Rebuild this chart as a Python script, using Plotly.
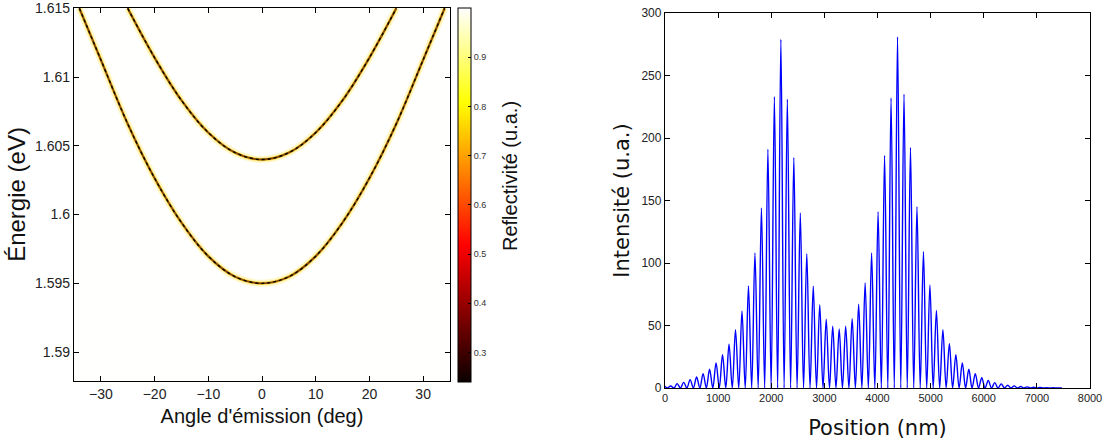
import plotly.graph_objects as go

# ---------------- Left panel data (dispersion of the two modes) ----------------
lower_angle_deg = [-34, -30, -25, -20, -15, -10, -5, 0, 5, 10, 15, 20, 25, 30, 34]
lower_energy_ev = [1.6150, 1.61125, 1.6066, 1.60265, 1.59942, 1.59697, 1.59548, 1.5950,
                   1.59548, 1.59697, 1.59942, 1.60265, 1.6066, 1.61125, 1.6150]
upper_angle_deg = [-25, -20, -15, -10, -5, 0, 5, 10, 15, 20, 25]
upper_energy_ev = [1.6150, 1.61141, 1.60831, 1.60596, 1.60450, 1.6040,
                   1.60450, 1.60596, 1.60831, 1.61141, 1.6150]
background_reflectivity = 0.999
angle_ticks = [-30, -20, -10, 0, 10, 20, 30]
energy_ticks = [1.59, 1.595, 1.6, 1.605, 1.61, 1.615]
energy_tick_labels = ["1.59", "1.595", "1.6", "1.605", "1.61", "1.615"]
refl_ticks = [0.3, 0.4, 0.5, 0.6, 0.7, 0.8, 0.9]

# ---------------- Right panel data (intensity fringes) ----------------
start_nm = [0]
start_int = [1.5]
peak_nm = [107, 229, 351, 473, 595, 717, 839, 961, 1083, 1205, 1327, 1449, 1571, 1693,
           1815, 1937, 2059, 2181, 2303, 2425, 2547, 2669, 2791, 2913, 3035, 3157, 3279,
           3401, 3523, 3645, 3767, 3889, 4011, 4133, 4255, 4377, 4499, 4621, 4743, 4865,
           4987, 5109, 5231, 5353, 5475, 5597, 5719, 5841, 5963, 6085, 6207, 6329, 6451,
           6573, 6695, 6817, 6939, 7061, 7183, 7305, 7427]
peak_int = [1.6, 3.5, 4.5, 6.7, 8.8, 11.5, 15, 20, 26.7, 35, 46.7, 61.6, 81.6, 108,
            144, 191, 233, 279, 231, 184.5, 140, 107.5, 81.4, 66.7, 55, 49.4, 47.2,
            49.4, 55.5, 67, 84, 108, 141, 186, 232, 281, 235, 192.5, 145, 109,
            82.5, 62, 46.7, 35.5, 26.7, 20, 15, 11.5, 8.3, 6, 4.3, 3.3, 2.2,
            1.7, 1.2, 0.9, 0.6, 0.4, 0.3, 0.2, 0.1]
valley_nm = [46, 168, 290, 412, 534, 656, 778, 900, 1022, 1144, 1266, 1388, 1510, 1632,
             1754, 1876, 1998, 2120, 2242, 2364, 2486, 2608, 2730, 2852, 2974, 3096, 3218,
             3340, 3462, 3584, 3706, 3828, 3950, 4072, 4194, 4316, 4438, 4560, 4682, 4804,
             4926, 5048, 5170, 5292, 5414, 5536, 5658, 5780, 5902, 6024, 6146, 6268, 6390,
             6512, 6634, 6756, 6878, 7000, 7122, 7244, 7366, 7470]
valley_int = [0] * len(valley_nm)
position_ticks = [0, 1000, 2000, 3000, 4000, 5000, 6000, 7000, 8000]
intensity_ticks = [0, 50, 100, 150, 200, 250, 300]

pts = sorted(zip(start_nm + peak_nm + valley_nm, start_int + peak_int + valley_int))
pos_all = [p[0] for p in pts]
int_all = [p[1] for p in pts]

W, H = 1104, 443
OFF = 0  # body margin removed below, figure sits at the window's top-left corner


def fx(px):
    return (px - OFF) / W


def fy(py):
    return 1 - (py - OFF) / H


hot = [[0.0, "rgb(11,0,0)"], [0.365, "rgb(255,0,0)"], [0.746, "rgb(255,255,0)"],
       [1.0, "rgb(255,255,255)"]]

fig = go.Figure()

# background reflectivity map (carries the colour bar)
fig.add_trace(go.Heatmap(
    x=[-35, 35], y=[1.5879, 1.615],
    z=[[background_reflectivity, background_reflectivity],
       [background_reflectivity, background_reflectivity]],
    colorscale=hot, zmin=0.24, zmax=1.0, xaxis="x", yaxis="y", hoverinfo="skip",
    colorbar=dict(
        x=fx(458), xanchor="left", xpad=0,
        y=fy(8), yanchor="top", ypad=0,
        len=(382 - 8) / H, lenmode="fraction",
        thickness=13, thicknessmode="pixels",
        outlinewidth=1, outlinecolor="black",
        tickvals=refl_ticks, ticks="inside", ticklen=3, tickcolor="black",
        tickfont=dict(family="Liberation Sans, Arial", size=9, color="#333"),
    ),
))

for ang, en in [(lower_angle_deg, lower_energy_ev), (upper_angle_deg, upper_energy_ev)]:
    for width, color, dash in [(7, "rgba(255,245,185,0.8)", "solid"),
                               (3.2, "#fbd84a", "solid"),
                               (1.9, "#8a4800", "solid"),
                               (1.4, "#000000", "dot")]:
        fig.add_trace(go.Scatter(x=ang, y=en, mode="lines", xaxis="x", yaxis="y",
                                 line=dict(color=color, width=width, shape="spline",
                                           smoothing=1.0, dash=dash),
                                 hoverinfo="skip"))

fig.add_trace(go.Scatter(x=pos_all, y=int_all, mode="lines", xaxis="x2", yaxis="y2",
                         line=dict(color="#0000ff", width=1.4, shape="spline",
                                   smoothing=1.0)))

axis_common = dict(showline=True, linecolor="black", linewidth=1.3, mirror="ticks",
                   ticks="inside", ticklen=5, tickcolor="black", showgrid=False,
                   zeroline=False, automargin=False, ticklabeloverflow="allow")

fig.update_layout(
    width=W, height=H, margin=dict(l=0, r=0, t=0, b=0, autoexpand=False),
    paper_bgcolor="white", plot_bgcolor="white", showlegend=False,
    xaxis=dict(domain=[fx(74), fx(450)], range=[-35, 35], tickvals=angle_ticks,
               anchor="y",
               tickfont=dict(family="Liberation Sans, Arial", size=14, color="#222"),
               title=dict(text="Angle d'émission (deg)", standoff=8,
                          font=dict(family="Liberation Sans, Arial", size=20,
                                    color="#111")),
               **axis_common),
    yaxis=dict(domain=[fy(381), fy(8)], range=[1.5879, 1.61502],
               tickvals=energy_ticks, ticktext=energy_tick_labels, anchor="x",
               tickfont=dict(family="Liberation Sans, Arial", size=14, color="#222"),
               title=dict(text="Énergie (eV)", standoff=2,
                          font=dict(family="Liberation Sans, Arial", size=24,
                                    color="#111")),
               **axis_common),
    xaxis2=dict(domain=[fx(665), fx(1090)], range=[0, 8000], tickvals=position_ticks,
                ticktext=[str(v) for v in position_ticks], anchor="y2",
                tickfont=dict(family="Liberation Sans, Arial", size=11, color="#222"),
                title=dict(text="Position (nm)", standoff=16,
                           font=dict(family="DejaVu Sans", size=21, color="#111")),
                **axis_common),
    yaxis2=dict(domain=[fy(388), fy(13)], range=[0, 300.05],
                tickvals=intensity_ticks, anchor="x2",
                tickfont=dict(family="Liberation Sans, Arial", size=12, color="#222"),
                title=dict(text="Intensité (u.a.)", standoff=6,
                           font=dict(family="DejaVu Sans", size=21, color="#111")),
                **axis_common),
    annotations=[dict(text="Reflectivité (u.a.)", textangle=-90, showarrow=False,
                      xref="paper", yref="paper", x=fx(510), y=fy(176),
                      xanchor="center", yanchor="middle",
                      font=dict(family="Liberation Sans, Arial", size=20,
                                color="#111"))],
)

fig.write_html("out.html", config={"displayModeBar": False},
               post_script="document.body.style.margin='0px';"
                           "document.body.style.padding='0px';")
